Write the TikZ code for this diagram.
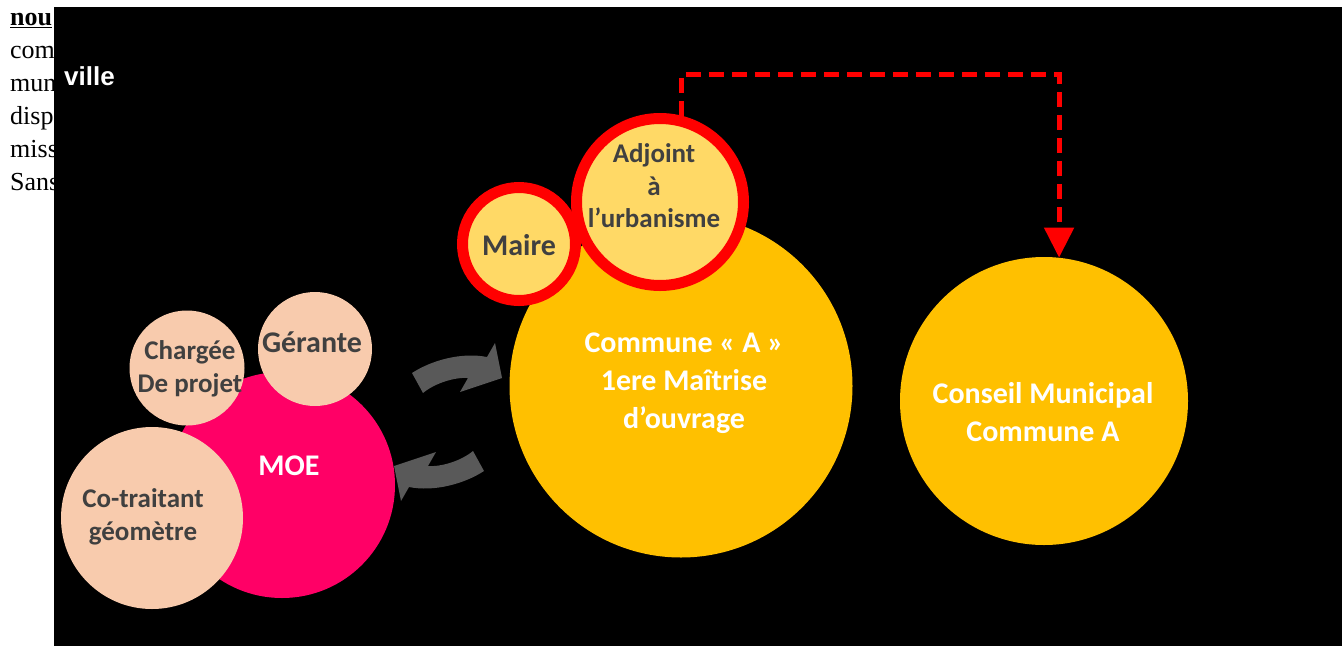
\documentclass[tikz,border=0pt]{standalone}
\usepackage{fontspec}
\setmainfont{Liberation Serif}
\newfontfamily\calib{Carlito}
\newfontfamily\arialb{Liberation Sans}
\usetikzlibrary{arrows.meta}

\definecolor{moepink}{HTML}{FF0066}
\definecolor{peachfill}{HTML}{F8CBAD}
\definecolor{goldfill}{HTML}{FFC000}
\definecolor{paleyellow}{HTML}{FFD966}
\definecolor{ringred}{HTML}{FF0000}
\definecolor{arrowgray}{HTML}{595959}
\definecolor{textgray}{HTML}{404040}

\begin{document}
\begin{tikzpicture}[
  x=1pt,y=-1pt,
  bubble/.style={circle,inner sep=0pt,minimum size=#1},
  peachbub/.style={fill=peachfill},
  goldbub/.style={fill=goldfill},
  ringbub/.style={draw=ringred,line width=11pt,fill=paleyellow},
  sidetxt/.style={anchor=base west,inner sep=0pt,font=\fontsize{26}{33}\selectfont},
  darktxt/.style={text=textgray,align=center,inner sep=0pt},
  whitetxt/.style={text=white,align=center,inner sep=0pt},
  bigtxt/.style={font=\calib\bfseries\fontsize{30}{38}\selectfont},
  smalltxt/.style={font=\calib\bfseries\fontsize{27}{32.5}\selectfont},
  redarrow/.style={draw=ringred,line width=5pt,dash pattern=on 15pt off 8pt,-{Triangle[width=29pt,length=30pt]}},
  swaparrow/.style={fill=arrowgray},
]
\useasboundingbox (0,0) rectangle (1342,646);

% page text under the frame
\node (line1) [sidetxt] at (10,25) {\underline{\textbf{nou}}};
\node (line2) [sidetxt] at (10,58) {com};
\node (line3) [sidetxt] at (10,91) {mun};
\node (line4) [sidetxt] at (10,124) {disp};
\node (line5) [sidetxt] at (10,157) {miss};
\node (line6) [sidetxt] at (10,190) {Sans};

\fill[black] (54,7) rectangle (1342,646);
\node (ville) [anchor=base west,inner sep=0pt,text=white,font=\arialb\bfseries\fontsize{26}{30}\selectfont] at (64,85) {ville};

% MOE group
\node (moe) [bubble=226,fill=moepink] at (282,485) {};
\node (charge) [bubble=115,peachbub] at (187,368) {};
\node (gerante) [bubble=114,peachbub] at (315,349) {};
\node (cotrait) [bubble=182,peachbub] at (152,518) {};
\node (moetxt) [whitetxt,bigtxt] at (289,466) {MOE};
\node (chargetxt) [darktxt,smalltxt] at (190,369) {Chargée\\De projet};
\node (gerantetxt) [darktxt,bigtxt] at (312,342) {Gérante};
\node (cotraittxt) [darktxt,smalltxt] at (143,517) {Co-traitant\\géomètre};

% exchange arrows
\foreach \ang in {0,180}
  \fill[swaparrow,rotate around={\ang:(448,422)}] (412,373) .. controls (432,360) and (462,352) .. (487,357)
    -- (495,343) -- (502,378) -- (460,392) -- (468,378) .. controls (455,377) and (435,383) .. (423,393) -- cycle;

% commune
\node (commune) [bubble=343,goldbub] at (681,386) {};
\node (maire) [bubble=113,ringbub] at (519,244) {};
\node (adjoint) [bubble=167,ringbub] at (660,202) {};
\node (communetxt) [whitetxt,bigtxt] at (684,383) {Commune « A »\\1ere Maîtrise\\d’ouvrage};
\node (mairetxt) [darktxt,bigtxt] at (519,245) {Maire};
\node (adjointtxt) [darktxt,smalltxt] at (654,186) {Adjoint\\à\\l’urbanisme};

% conseil
\node (conseil) [bubble=288,goldbub] at (1044,401) {};
\node (conseiltxt) [whitetxt,bigtxt] at (1043,412) {Conseil Municipal\\Commune A};

\coordinate (bend) at (conseil.84 |- 0,74);
\draw[redarrow] (adjoint.76) |- (bend) -- (conseil.84);
\end{tikzpicture}
\end{document}
